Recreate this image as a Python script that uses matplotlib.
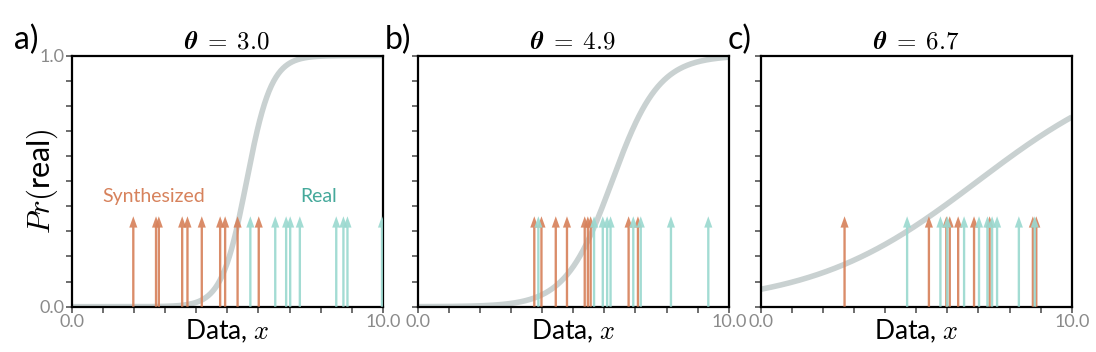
import matplotlib
matplotlib.use("Agg")
import matplotlib.pyplot as plt
import numpy as np

plt.rcParams['font.family'] = ['Lato', 'DejaVu Sans']
plt.rcParams['mathtext.fontset'] = 'cm'

# ---- data ----
panel_labels = ["a)", "b)", "c)"]
theta_values = [3.0, 4.9, 6.7]
# sigmoid curve parameters (slope, midpoint) for each panel
curve_slopes = [2.5, 1.33, 0.3725]
curve_midpoints = [5.62, 6.25, 6.98]

synth_a = [1.98, 2.71, 2.80, 3.55, 3.72, 4.18, 4.77, 4.93, 5.33, 6.01]
real_a = [5.74, 6.54, 6.89, 7.02, 7.33, 8.50, 8.73, 8.86, 9.97]
synth_b = [3.75, 3.98, 4.44, 4.80, 5.37, 5.47, 5.56, 6.78, 7.08]
real_b = [3.88, 5.67, 5.95, 6.09, 6.20, 6.93, 7.17, 8.14, 9.34]
synth_c = [2.70, 5.41, 5.97, 6.08, 6.35, 6.86, 7.36, 8.75, 8.86]
real_c = [4.71, 5.78, 6.00, 6.54, 7.02, 7.29, 7.44, 7.60, 8.30, 8.81]

synth_sets = [synth_a, synth_b, synth_c]
real_sets = [real_a, real_b, real_c]

ORANGE = '#d7825c'
TEAL = '#9bd9d0'
TEAL_TEXT = '#45a99b'
GRAY = '#c9d1d1'
TICK_GRAY = '#8a8a8a'

fig = plt.figure(figsize=(10.96, 3.52), dpi=100)
lefts = [0.0654, 0.381, 0.6939]
width = 0.2840
bottom = 0.1287
height = 0.7136

x_curve = np.linspace(0, 10, 400)
arrow_len = 0.36

for i in range(3):
    ax = fig.add_axes([lefts[i], bottom, width, height])
    y_curve = 1.0 / (1.0 + np.exp(-curve_slopes[i] * (x_curve - curve_midpoints[i])))
    ax.plot(x_curve, y_curve, color=GRAY, lw=4.0, zorder=1, solid_capstyle='butt')

    for xv in synth_sets[i]:
        ax.arrow(xv, 0, 0, arrow_len, width=0.075, head_width=0.26, head_length=0.045,
                 length_includes_head=True, color=ORANGE, alpha=0.92, lw=0, zorder=3)
    for xv in real_sets[i]:
        ax.arrow(xv, 0, 0, arrow_len, width=0.075, head_width=0.26, head_length=0.045,
                 length_includes_head=True, color=TEAL, alpha=0.92, lw=0, zorder=4)

    ax.set_xlim(0, 10)
    ax.set_ylim(0, 1)
    ax.set_xticks([0, 10])
    ax.set_xticklabels(['0.0', '10.0'])
    ax.set_xticks(np.arange(0, 11, 1), minor=True)
    ax.set_yticks(np.arange(0, 1.01, 0.1), minor=True)
    ax.set_yticks([0, 1])
    if i == 0:
        ax.set_yticklabels(['0.0', '1.0'])
    else:
        ax.set_yticklabels(['', ''])
    ax.tick_params(axis='both', which='both', direction='out', length=4, width=1.2,
                   color='#555555', labelcolor=TICK_GRAY, labelsize=13, pad=1)
    for s in ax.spines.values():
        s.set_linewidth(1.6)
        s.set_color('black')

    ax.set_xlabel(r'Data, $x$', fontsize=19, labelpad=-9)
    ax.set_title(r'$\boldsymbol{\theta}\;=\;%.1f$' % theta_values[i], fontsize=18, pad=5)
    ax.text(-0.185 if i == 0 else -0.105, 1.0, panel_labels[i], transform=ax.transAxes,
            fontsize=23, ha='left', va='bottom')

    if i == 0:
        ax.set_ylabel(r'$Pr($real$)$', fontsize=22)
        ax.yaxis.set_label_coords(-0.038, 0.5)
        ax.text(2.64, 0.44, 'Synthesized', color=ORANGE, fontsize=14, ha='center', va='center')
        ax.text(7.93, 0.44, 'Real', color=TEAL_TEXT, fontsize=14, ha='center', va='center')

fig.savefig('out.png', dpi=100)
